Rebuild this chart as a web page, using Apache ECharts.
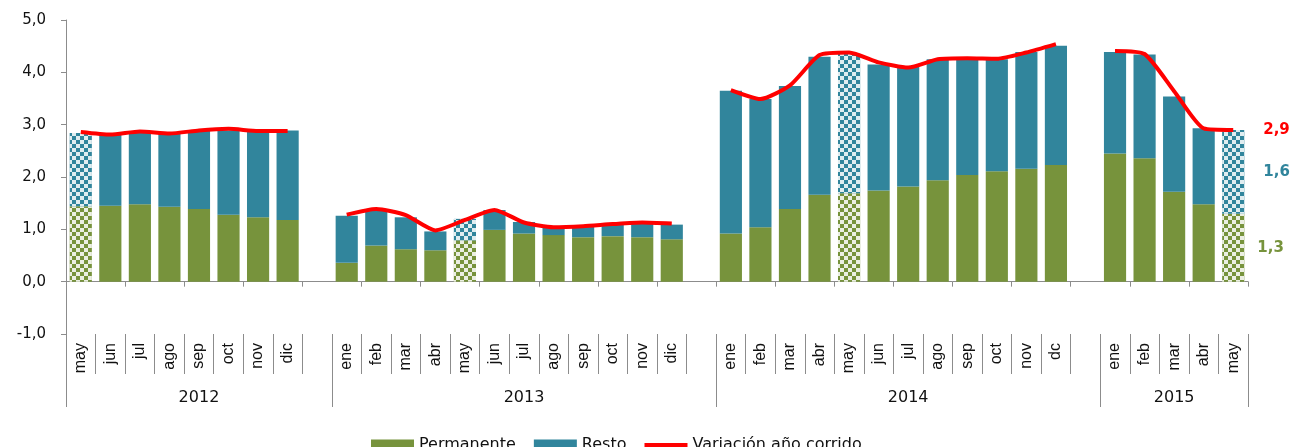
<!DOCTYPE html>
<html>
<head>
	<meta charset="utf-8" />
	<title>Variación año corrido</title>
	<script src="https://cdn.jsdelivr.net/npm/echarts@6/dist/echarts.min.js"></script>
	<style>
		html, body { margin: 0; padding: 0; background: #fff; }
		#chart { width: 1302px; height: 447px; }
	</style>
</head>
<body>
	<div id="chart"></div>

	<script type="text/javascript">
		/******************* datos ******************/
		// '' = hueco entre años
		var meses = ['may', 'jun', 'jul', 'ago', 'sep', 'oct', 'nov', 'dic', '',
			'ene', 'feb', 'mar', 'abr', 'may', 'jun', 'jul', 'ago', 'sep', 'oct', 'nov', 'dic', '',
			'ene', 'feb', 'mar', 'abr', 'may', 'jun', 'jul', 'ago', 'sep', 'oct', 'nov', 'dc', '',
			'ene', 'feb', 'mar', 'abr', 'may'];

		// etiqueta del año en el centro de cada grupo
		var anios = ['', '', '', '', '2012', '', '', '', '',
			'', '', '', '', '', '', '2013', '', '', '', '', '', '',
			'', '', '', '', '', '', '2014', '', '', '', '', '', '',
			'', '', '2015', '', ''];

		// primer índice de cada año (separadores)
		var inicioAnio = [0, 9, 22, 35];

		var permanente = [1.44, 1.45, 1.48, 1.43, 1.39, 1.28, 1.23, 1.18, null,
			0.36, 0.69, 0.62, 0.60, 0.79, 0.99, 0.92, 0.89, 0.85, 0.87, 0.85, 0.81, null,
			0.92, 1.04, 1.39, 1.66, 1.69, 1.74, 1.82, 1.94, 2.04, 2.11, 2.16, 2.23, null,
			2.45, 2.36, 1.72, 1.48, 1.3];

		var resto = [1.40, 1.36, 1.37, 1.39, 1.49, 1.61, 1.66, 1.71, null,
			0.90, 0.67, 0.61, 0.36, 0.41, 0.38, 0.22, 0.17, 0.21, 0.22, 0.27, 0.28, null,
			2.73, 2.45, 2.35, 2.64, 2.67, 2.41, 2.29, 2.31, 2.20, 2.14, 2.23, 2.28, null,
			1.94, 1.98, 1.82, 1.45, 1.6];

		var variacion = [2.86, 2.81, 2.87, 2.83, 2.89, 2.92, 2.88, 2.88, null,
			1.28, 1.39, 1.27, 0.98, 1.18, 1.37, 1.13, 1.04, 1.06, 1.10, 1.13, 1.11, null,
			3.66, 3.49, 3.75, 4.33, 4.38, 4.19, 4.09, 4.25, 4.27, 4.26, 4.38, 4.54, null,
			4.41, 4.35, 3.64, 2.93, 2.9];

		var verde = '#77933C', azul = '#31859C', rojo = '#FF0000';
		var gris = '#8C8C8C';

		function coma(v) {
			return v.toFixed(1).replace('.', ',');
		}

		// barras de mayo con trama
		var trama = {
			symbol: 'rect',
			symbolSize: 1,
			color: 'rgba(255,255,255,0.85)',
			dashArrayX: [[4, 4], [0, 4, 4, 0]],
			dashArrayY: [4, 0]
		};

		function barras(valores, color, distancia) {
			var ultimo = valores.length - 1;
			return valores.map(function (v, i) {
				var item = { value: v };
				if (meses[i] === 'may') {
					item.itemStyle = { decal: trama };
				}
				if (i === ultimo) {
					item.label = {
						show: true, position: 'right', distance: distancia,
						color: color, fontWeight: 'bold', fontSize: 15,
						fontFamily: 'DejaVu Sans',
						formatter: function (p) { return coma(p.value); }
					};
				}
				return item;
			});
		}

		/******************* grafico ******************/
		var myChart = echarts.init(document.getElementById('chart'), null, { renderer: 'canvas' });

		var option = {
			animation: false,
			textStyle: { fontFamily: 'DejaVu Sans' },
			grid: { left: 66, right: 54, top: 20, bottom: 113, containLabel: false },
			legend: {
				left: 366,
				top: 432,
				itemWidth: 43,
				itemHeight: 11,
				itemGap: 18,
				textStyle: { fontSize: 16, color: '#111', fontFamily: 'DejaVu Sans' },
				data: [
					{ name: 'Permanente', icon: 'rect' },
					{ name: 'Resto', icon: 'rect' },
					{ name: 'Variación año corrido', icon: 'path://M0,0L43,0L43,4L0,4Z' }
				]
			},
			xAxis: [
				{
					// eje sobre el cero
					type: 'category',
					data: meses,
					position: 'bottom',
					axisLine: { onZero: true, lineStyle: { color: gris } },
					axisTick: { show: true, length: 5, lineStyle: { color: gris } },
					axisLabel: { show: false }
				},
				{
					// meses
					type: 'category',
					data: meses,
					position: 'bottom',
					axisLine: { show: false, onZero: false },
					axisTick: { show: true, length: 40, lineStyle: { color: gris } },
					axisLabel: {
						interval: 0, rotate: 90, margin: 9,
						fontSize: 16, color: '#111', fontFamily: 'Liberation Sans'
					}
				},
				{
					// años
					type: 'category',
					data: anios,
					position: 'bottom',
					axisLine: { show: false, onZero: false },
					axisTick: {
						show: true, length: 73, lineStyle: { color: gris },
						interval: function (i) { return inicioAnio.indexOf(i) >= 0; }
					},
					axisLabel: {
						interval: 0, margin: 56,
						fontSize: 16, color: '#111', fontFamily: 'DejaVu Sans'
					}
				}
			],
			yAxis: {
				type: 'value',
				min: -1,
				max: 5,
				interval: 1,
				splitLine: { show: false },
				axisLine: { show: true, lineStyle: { color: gris } },
				axisTick: { show: true, length: 5, lineStyle: { color: gris } },
				axisLabel: {
					margin: 20, fontSize: 15, color: '#111', fontFamily: 'DejaVu Sans',
					formatter: function (v) { return coma(v); }
				}
			},
			series: [
				{
					name: 'Permanente',
					type: 'bar',
					stack: 'total',
					barCategoryGap: '25%',
					itemStyle: { color: verde },
					data: barras(permanente, verde, 13)
				},
				{
					name: 'Resto',
					type: 'bar',
					stack: 'total',
					barCategoryGap: '25%',
					itemStyle: { color: azul },
					data: barras(resto, azul, 19)
				},
				{
					name: 'Variación año corrido',
					type: 'line',
					symbol: 'none',
					smooth: 0.2,
					connectNulls: false,
					z: 5,
					lineStyle: { color: rojo, width: 4 },
					itemStyle: { color: rojo },
					endLabel: {
						show: true, distance: 30,
						color: rojo, fontWeight: 'bold', fontSize: 15,
						fontFamily: 'DejaVu Sans',
						formatter: function (p) { return coma(p.value); }
					},
					data: variacion
				}
			]
		};

		myChart.setOption(option);
		window.addEventListener('resize', myChart.resize);
	</script>
</body>
</html>
